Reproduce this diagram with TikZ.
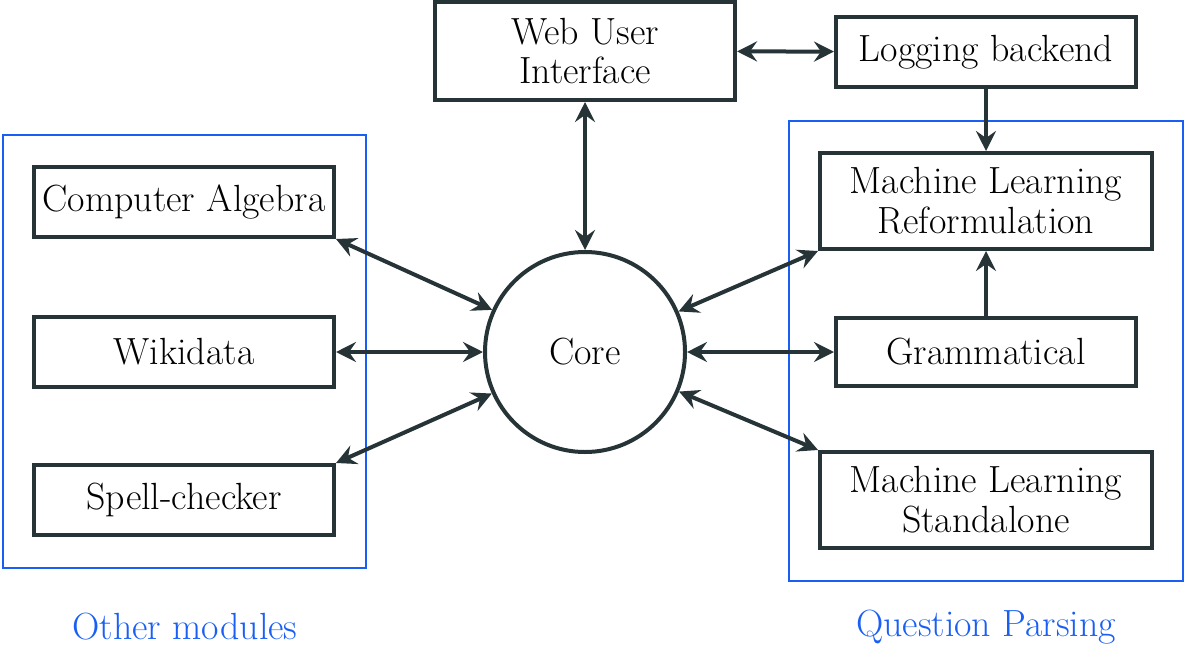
\documentclass[tikz,border=0pt]{standalone}
\usepackage{tikz}
\usepackage{xcolor}
\usetikzlibrary{arrows.meta}
\definecolor{boxColor}{HTML}{263437}
\definecolor{groupColor}{HTML}{1A5FF5}

\tikzset{
  tip/.tip={Stealth[length=10bp, width=10bp, inset=3.5bp]},
  module/.style={draw=boxColor, line width=2bp, fill=white, inner sep=0pt,
    align=center, text=black, font=\fontsize{19}{20}\selectfont},
  link/.style={draw=boxColor, line width=2bp, tip-tip},
  group/.style={draw=groupColor, line width=1bp},
  grouplabel/.style={text=groupColor, font=\fontsize{19}{20}\selectfont}
}

\begin{document}
\begin{tikzpicture}[x=0.5bp,y=-0.5bp]
\useasboundingbox (0, 0) rectangle (1188, 646);

% group layer
\begin{scope}
\draw[group] (3, 135) rectangle (366, 568);
\draw[group] (789, 121) rectangle (1183, 581);
\node[grouplabel] (otherLabel) at (185, 627) {Other modules};
\node[grouplabel] (parsingLabel) at (986, 627) {Question Parsing};
\end{scope}

% node layer
\begin{scope}
\node[module, minimum width=150bp, minimum height=49bp] (web) at (585, 51) {Web User\\Interface};
\node[module, minimum width=150bp, minimum height=35bp] (logging) at (986, 52) {Logging backend};
\node[module, circle, minimum size=100bp] (core) at (585, 352) {Core};
\node[module, minimum width=150bp, minimum height=35bp] (algebra) at (184, 202) {Computer Algebra};
\node[module, minimum width=150bp, minimum height=35bp] (wikidata) at (184, 352) {Wikidata};
\node[module, minimum width=150bp, minimum height=35bp] (spell) at (184, 500) {Spell-checker};
\node[module, minimum width=166bp, minimum height=48bp] (reform) at (986, 201) {Machine Learning\\Reformulation};
\node[module, minimum width=150bp, minimum height=34bp] (grammar) at (986, 352) {Grammatical};
\node[module, minimum width=166bp, minimum height=48bp] (standalone) at (986, 500) {Machine Learning\\Standalone};
\end{scope}

% link layer
\begin{scope}
\draw[link] (web) -- (core);
\draw[link] (web) -- (logging);
\draw[link, -tip] (logging) -- (reform);
\draw[link, -tip] (grammar) -- (reform);
\draw[link] (core) -- (algebra.south east);
\draw[link] (core) -- (wikidata);
\draw[link] (core) -- (spell.north east);
\draw[link] (core) -- (reform.south west);
\draw[link] (core) -- (grammar);
\draw[link] (core) -- (standalone.north west);
\end{scope}

\end{tikzpicture}
\end{document}
